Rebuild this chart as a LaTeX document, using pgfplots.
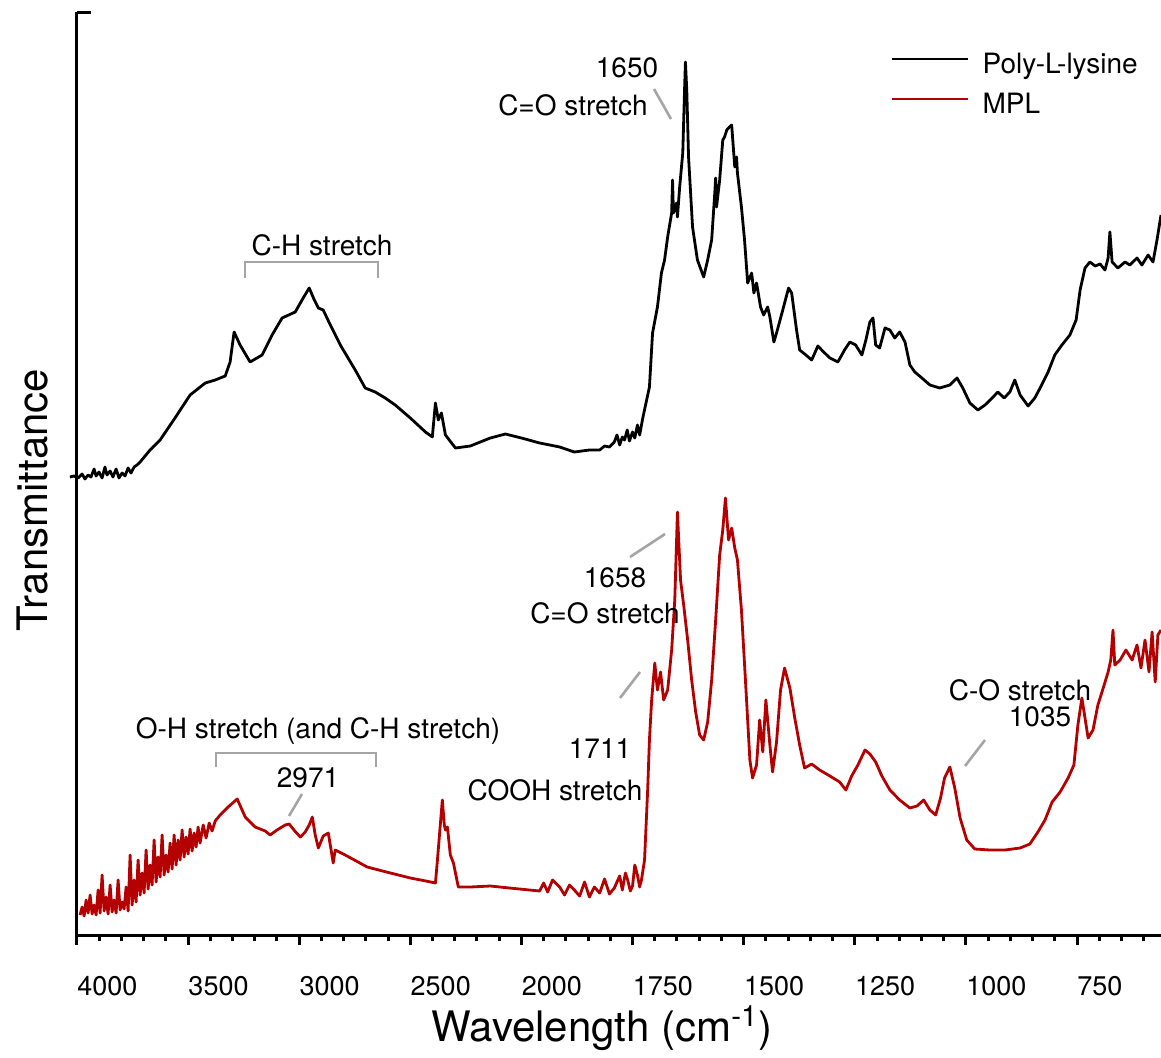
\documentclass[border=0pt]{standalone}
\usepackage{fontspec}
\setmainfont{TeX Gyre Heros}
\usepackage{pgfplots}
\pgfplotsset{compat=1.18}
\definecolor{mplred}{RGB}{180,0,0}
\definecolor{annot}{RGB}{165,165,165}
\newcommand{\tickfont}{\fontsize{13.5}{16}\selectfont}
\newcommand{\annfont}{\fontsize{14}{17}\selectfont}
\newcommand{\labfont}{\fontsize{21}{25}\selectfont}
\begin{document}
\begin{tikzpicture}
\begin{axis}[
  at={(38.5pt,61pt)}, anchor=south west,
  scale only axis, width=542pt, height=461.5pt,
  x coord trafo/.code={\pgfmathparse{(#1>2000)*(1000+#1/2)+(#1<=2000)*#1}},
  x coord inv trafo/.code={\pgfmathparse{(#1>2000)*(2*#1-2000)+(#1<=2000)*#1}},
  x dir=reverse,
  xmin=561, xmax=4000, ymin=0, ymax=923,
  axis lines*=left,
  axis line style={line width=1.5pt},
  ytick=\empty,
  xtick={4000,3500,3000,2500,2000,1750,1500,1250,1000,750},
  xticklabels={4000,3500,3000,2500,2000,1750,1500,1250,1000,750},
  minor xtick={3900,3800,3700,3600,3400,3300,3200,3100,2900,2800,2700,2600,2400,2300,2200,2100,1950,1900,1850,1800,1700,1650,1600,1550,1450,1400,1350,1300,1200,1150,1100,1050,950,900,850,800,700,650,600},
  tick align=outside, xtick pos=bottom,
  major tick length=5pt, minor tick length=3pt,
  every tick/.style={line width=1.5pt, black},
  xticklabel style={font=\tickfont, anchor=base west, inner sep=0pt, yshift=-25pt},
  xlabel={Wavelength (cm\textsuperscript{-1})},
  ylabel={Transmittance},
  every axis x label/.style={at={(axis description cs:0.4843,-0.1159)}, anchor=base, font=\labfont},
  every axis y label/.style={at={(axis description cs:-0.0406,0.4713)}, anchor=center, rotate=90, font=\labfont},
  clip=false,
  legend style={at={(axis description cs:0.7504,0.956)}, anchor=north west, draw=none, fill=none,
    font=\annfont, inner sep=0pt, row sep=7pt,
    nodes={inner ysep=0pt, inner xsep=6.5pt, text height=10pt, text depth=3pt}},
  legend cell align=left,
  legend image code/.code={\draw[#1, line cap=butt] (0pt,3.5pt) -- (38pt,3.5pt);},
]
\addplot[black, line width=1.4pt, line join=round] coordinates {
(4032,458)(4014,459)(3995,457)(3977,461)(3964,456)(3950,460)(3937,458)(3923,466)(3914,459)(3901,463)(3887,457)(3874,468)(3865,460)(3851,464)(3838,458)(3824,466)(3811,457)(3797,462)(3784,459)(3770,467)(3757,462)(3743,468)(3730,470)(3716,473)(3671,485)(3626,495)(3559,517)(3491,540)(3423,552)(3378,555)(3333,559)(3311,573)(3293,603)(3266,590)(3221,573)(3167,580)(3122,600)(3077,617)(3018,623)(2982,637)(2955,647)(2932,635)(2914,627)(2892,625)(2860,610)(2815,590)(2748,565)(2703,547)(2658,543)(2613,537)(2568,530)(2500,517)(2432,503)(2401,498)(2387,532)(2374,515)(2360,522)(2342,500)(2297,487)(2230,489)(2140,497)(2072,501)(2000,497)(1959,492)(1914,488)(1881,483)(1847,485)(1824,485)(1813,489)(1802,488)(1791,493)(1785,500)(1779,490)(1773,498)(1768,495)(1762,505)(1757,494)(1750,503)(1745,497)(1739,510)(1734,500)(1727,517)(1712,548)(1705,602)(1694,628)(1685,662)(1678,675)(1671,698)(1662,722)(1660,755)(1658,722)(1651,732)(1649,718)(1644,748)(1637,782)(1633,845)(1631,873)(1628,845)(1624,778)(1615,708)(1604,675)(1590,658)(1581,675)(1572,695)(1565,742)(1563,757)(1561,728)(1554,755)(1547,795)(1543,798)(1538,805)(1532,808)(1527,810)(1525,798)(1520,768)(1516,778)(1514,762)(1505,728)(1498,695)(1491,652)(1482,662)(1477,642)(1471,652)(1462,628)(1455,620)(1446,628)(1441,618)(1432,593)(1426,602)(1412,625)(1399,647)(1392,642)(1381,605)(1374,585)(1360,580)(1347,575)(1333,589)(1320,583)(1306,577)(1288,573)(1273,585)(1261,593)(1248,590)(1234,580)(1225,595)(1216,613)(1209,617)(1203,590)(1194,587)(1182,607)(1171,605)(1160,597)(1149,603)(1137,593)(1126,570)(1115,563)(1099,557)(1081,550)(1059,547)(1036,550)(1020,557)(1007,547)(991,532)(973,525)(957,530)(941,537)(928,543)(914,537)(901,543)(890,555)(878,540)(860,529)(845,537)(833,547)(815,563)(800,580)(784,590)(766,600)(752,615)(743,645)(732,667)(721,673)(709,669)(698,671)(687,665)(680,677)(676,703)(671,673)(658,667)(642,673)(631,670)(615,677)(604,670)(590,680)(579,673)(570,695)(561,720)
};
\addlegendentry{Poly-L-lysine}
\addplot[mplred, line width=1.4pt, line join=round] coordinates {
(3986,20)(3977,28)(3968,19)(3959,35)(3950,22)(3941,40)(3932,21)(3923,30)(3914,20)(3905,45)(3896,22)(3887,60)(3878,24)(3869,38)(3860,21)(3851,50)(3842,23)(3833,35)(3824,22)(3815,55)(3806,25)(3797,33)(3788,26)(3779,48)(3770,24)(3761,80)(3752,30)(3743,55)(3734,33)(3725,75)(3716,40)(3707,62)(3698,42)(3689,85)(3680,46)(3671,70)(3662,50)(3653,95)(3644,53)(3635,78)(3626,58)(3617,100)(3608,60)(3599,80)(3590,63)(3581,92)(3572,66)(3563,100)(3554,70)(3545,95)(3536,75)(3527,105)(3518,78)(3509,98)(3500,81)(3491,106)(3482,84)(3473,102)(3464,88)(3455,108)(3446,92)(3432,110)(3419,97)(3405,112)(3392,104)(3378,114)(3356,120)(3320,128)(3279,136)(3243,118)(3198,108)(3153,104)(3131,100)(3100,105)(3063,110)(3045,111)(3020,104)(2995,98)(2973,103)(2955,110)(2941,118)(2928,100)(2914,87)(2892,99)(2869,102)(2847,72)(2838,85)(2793,80)(2694,68)(2590,62)(2500,57)(2430,54)(2387,52)(2378,75)(2356,135)(2347,110)(2342,105)(2333,108)(2320,80)(2306,72)(2284,48)(2230,48)(2140,49)(2054,47)(1982,45)(1959,44)(1950,52)(1941,43)(1930,55)(1914,48)(1903,40)(1892,50)(1881,45)(1869,39)(1858,53)(1847,38)(1836,48)(1824,42)(1813,56)(1802,41)(1791,47)(1779,59)(1773,45)(1766,62)(1761,55)(1755,44)(1750,49)(1745,70)(1739,60)(1734,48)(1730,55)(1723,75)(1716,145)(1712,195)(1707,235)(1700,272)(1694,245)(1687,263)(1680,235)(1671,245)(1662,285)(1655,335)(1649,423)(1642,355)(1635,330)(1626,295)(1617,255)(1608,223)(1599,200)(1590,195)(1581,213)(1572,255)(1563,315)(1554,380)(1547,405)(1541,437)(1534,395)(1527,407)(1520,387)(1514,375)(1505,325)(1496,255)(1486,175)(1480,157)(1471,170)(1464,215)(1457,183)(1450,235)(1441,190)(1435,163)(1426,193)(1417,245)(1408,267)(1396,247)(1385,217)(1374,190)(1363,167)(1347,171)(1329,165)(1306,159)(1284,153)(1270,145)(1257,159)(1243,170)(1227,185)(1216,181)(1203,173)(1189,159)(1171,145)(1149,135)(1126,127)(1110,129)(1095,135)(1081,125)(1068,120)(1057,137)(1048,157)(1036,168)(1025,147)(1013,117)(998,95)(980,86)(946,85)(912,85)(878,87)(856,91)(838,103)(822,115)(806,133)(788,143)(770,157)(757,170)(748,210)(739,237)(732,217)(725,197)(714,205)(703,230)(691,247)(680,263)(674,275)(669,305)(665,270)(653,275)(640,285)(626,275)(615,290)(606,267)(597,295)(588,263)(581,303)(574,253)(568,300)(561,305)
};
\addlegendentry{MPL}
\end{axis}
% annotations in image pixel coordinates
\begin{scope}[x=0.5pt,y=-0.5pt,yshift=528.5pt]
  \draw[line width=1.5pt] (77,13) -- (91,13);
  \begin{scope}[font=\annfont]
    \node[anchor=base] at (627,78) {1650};
    \node[anchor=base] at (573,116) {C=O stretch};
    \node[anchor=base] at (322,256) {C-H stretch};
    \node[anchor=base] at (615,587) {1658};
    \node[anchor=base] at (605,623) {C=O stretch};
    \node[anchor=base] at (600,758) {1711};
    \node[anchor=base] at (555,800) {COOH stretch};
    \node[anchor=base] at (318,738) {O-H stretch (and C-H stretch)};
    \node[anchor=base] at (308,787) {2971};
    \node[anchor=base] at (1020,700) {C-O stretch};
    \node[anchor=base] at (1040,726) {1035};
  \end{scope}
  \begin{scope}[annot, line width=1.3pt]
    \draw (654,89) -- (671,119);
    \draw (245,278) -- (245,262) -- (378,262) -- (378,278);
    \draw (630,557) -- (665,534);
    \draw (620,698) -- (640,672);
    \draw (216,767) -- (216,753) -- (376,753) -- (376,767);
    \draw (302,794) -- (289,816);
    \draw (985,740) -- (965,766);
  \end{scope}
\end{scope}
\pgfresetboundingbox
\path[use as bounding box] (0,0) rectangle (580.5pt,528.5pt);
\end{tikzpicture}
\end{document}
